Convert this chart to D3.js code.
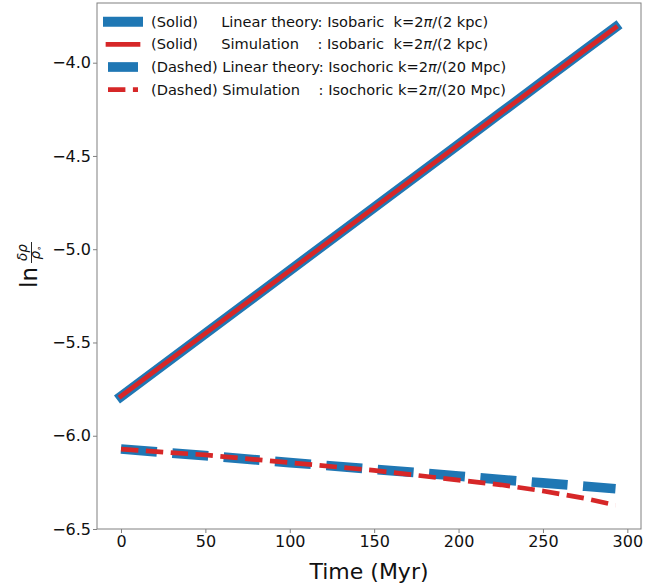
<!DOCTYPE html>
<html>
<head>
<meta charset="utf-8">
<script src="https://cdn.jsdelivr.net/npm/d3@7"></script>
<style>
  html, body { margin: 0; padding: 0; background: #fff; }
  svg { display: block; font-family: "DejaVu Sans", sans-serif; }
  text { white-space: pre; }
</style>
</head>
<body>
<svg id="chart" width="665" height="587"></svg>
<script>
// ---- data ----
const timeMyr = [0, 50, 100, 150, 200, 225, 250, 275, 293];
const isobaricTheory = [-5.790, -5.452, -5.114, -4.776, -4.438, -4.269, -4.100, -3.931, -3.810];
const isobaricSim    = [-5.788, -5.451, -5.115, -4.777, -4.439, -4.270, -4.101, -3.932, -3.811];
const isochoricTheory = [-6.071, -6.107, -6.144, -6.180, -6.216, -6.235, -6.253, -6.271, -6.284];
const isochoricSim    = [-6.072, -6.103, -6.144, -6.186, -6.238, -6.263, -6.296, -6.336, -6.372];
const xTicks = [0, 50, 100, 150, 200, 250, 300];
const yTicks = [-6.5, -6.0, -5.5, -5.0, -4.5, -4.0];
const legendLabels = [
  "(Solid)     Linear theory: Isobaric  k=2\u03C0/(2 kpc)",
  "(Solid)     Simulation    : Isobaric  k=2\u03C0/(2 kpc)",
  "(Dashed) Linear theory: Isochoric k=2\u03C0/(20 Mpc)",
  "(Dashed) Simulation    : Isochoric k=2\u03C0/(20 Mpc)"
];

const svg = d3.select("#chart");
const L = 97, R = 641, T = 3, B = 529;
const x = d3.scaleLinear().domain([-14.22, 308.1]).range([L, R]);
const y = d3.scaleLinear().domain([-6.5, -3.680]).range([B, T]);

const BLUE = "#1f77b4", RED = "#d62728";

svg.append("defs").append("clipPath").attr("id", "clip")
  .append("rect").attr("x", L).attr("y", T).attr("width", R - L).attr("height", B - T);

const series = [
  { vals: isobaricTheory, color: BLUE, w: 10, dash: null },
  { vals: isobaricSim, color: RED, w: 4.7, dash: null },
  { vals: isochoricTheory, color: BLUE, w: 9.7, dash: "36,15.5" },
  { vals: isochoricSim, color: RED, w: 4.7, dash: "17.4,7.5" }
];

const line = d3.line().x((d, i) => x(timeMyr[i])).y(d => y(d));
const g = svg.append("g").attr("clip-path", "url(#clip)");
series.forEach(s => {
  g.append("path")
    .datum(s.vals)
    .attr("d", line)
    .attr("fill", "none")
    .attr("stroke", s.color)
    .attr("stroke-width", s.w)
    .attr("stroke-linecap", s.dash ? "butt" : "square")
    .attr("stroke-linejoin", "round")
    .attr("stroke-dasharray", s.dash);
});

// frame
svg.append("rect").attr("x", L).attr("y", T).attr("width", R - L).attr("height", B - T)
  .attr("fill", "none").attr("stroke", "#808080").attr("stroke-width", 1);

// axes
const xAxis = d3.axisBottom(x).tickValues(xTicks).tickFormat(d3.format("d")).tickSize(4).tickPadding(3);
const yAxis = d3.axisLeft(y).tickValues(yTicks).tickFormat(d => d3.format(".1f")(d).replace("-", "\u2212")).tickSize(4).tickPadding(2);

const gx = svg.append("g").attr("transform", `translate(0,${B})`).call(xAxis);
const gy = svg.append("g").attr("transform", `translate(${L},0)`).call(yAxis);
[gx, gy].forEach(ax => {
  ax.select(".domain").remove();
  ax.selectAll(".tick line").attr("stroke", "#808080");
  ax.selectAll(".tick text").attr("fill", "#111").style("font-size", "16px")
    .style("font-family", "'DejaVu Sans', sans-serif");
});

// x label
svg.append("text").attr("x", (L + R) / 2).attr("y", 579).attr("text-anchor", "middle")
  .style("font-size", "22px").attr("fill", "#111").text("Time (Myr)");

// y label: ln δρ/ρo
const yl = svg.append("g").attr("transform", "translate(0,270) rotate(-90)").attr("fill", "#111");
yl.append("text").attr("x", -18).attr("y", 37).style("font-size", "23px").text("ln");
yl.append("line").attr("x1", 7).attr("x2", 28).attr("y1", 31.5).attr("y2", 31.5)
  .attr("stroke", "#111").attr("stroke-width", 0.9);
yl.append("text").attr("x", 17.5).attr("y", 26.5).attr("text-anchor", "middle")
  .style("font-size", "13.5px").style("font-style", "italic").text("\u03B4\u03C1");
const den = yl.append("text").attr("x", 17.5).attr("y", 40).attr("text-anchor", "middle")
  .style("font-size", "13.5px");
den.append("tspan").style("font-style", "italic").text("\u03C1");
den.append("tspan").attr("dy", 2).style("font-size", "9px").text("\u2218");

// legend
const legY = [21.7, 44.3, 67.0, 89.7];
const lg = svg.append("g");
series.forEach((s, i) => {
  lg.append("line")
    .attr("x1", 108).attr("x2", 138).attr("y1", legY[i]).attr("y2", legY[i])
    .attr("stroke", s.color).attr("stroke-width", s.w)
    .attr("stroke-linecap", s.dash ? "butt" : "square")
    .attr("stroke-dasharray", s.dash);
  const parts = legendLabels[i].split("\u03C0");
  const t = lg.append("text").attr("x", 151).attr("y", legY[i] + 5)
    .attr("xml:space", "preserve")
    .style("font-size", "14.6px").attr("fill", "#111");
  t.append("tspan").text(parts[0]);
  t.append("tspan").style("font-style", "italic").text("\u03C0");
  t.append("tspan").text(parts[1]);
});
</script>
</body>
</html>
